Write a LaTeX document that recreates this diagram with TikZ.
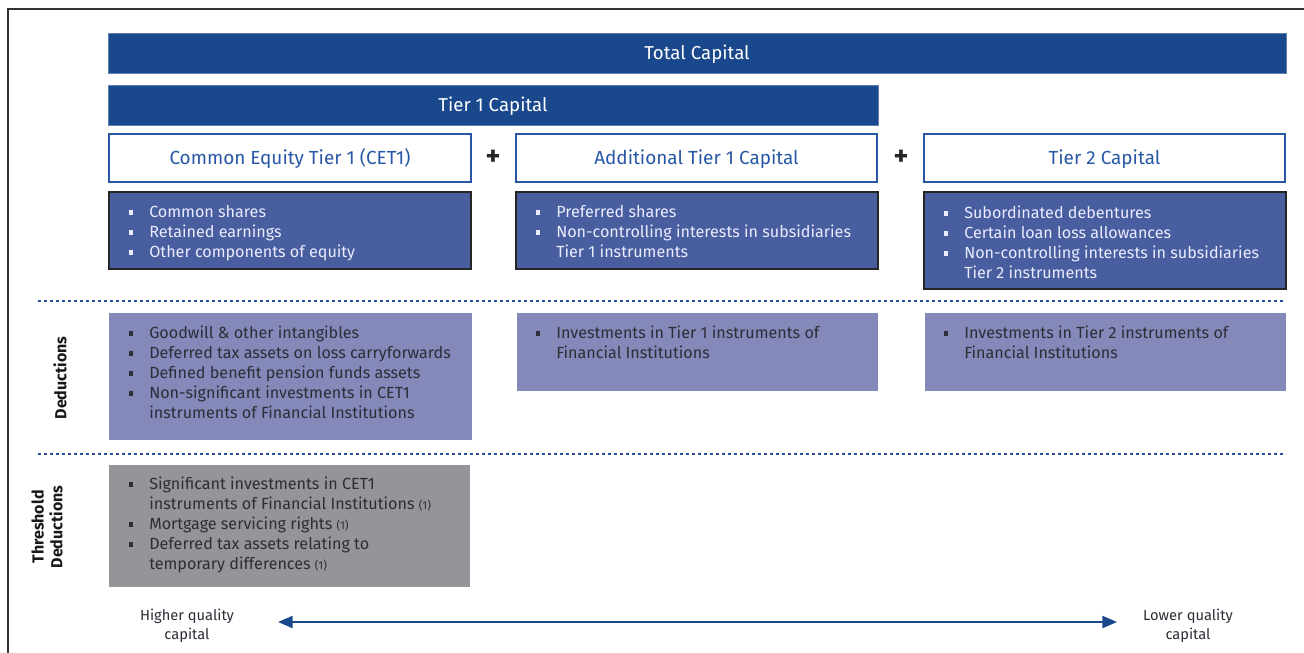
\documentclass[tikz,border=0pt]{standalone}
\usepackage{fontspec}
\setmainfont{Fira Sans}
\usetikzlibrary{arrows.meta}
\definecolor{navy}{RGB}{26,72,140}
\definecolor{headblue}{RGB}{40,88,165}
\definecolor{compblue}{RGB}{72,94,158}
\definecolor{lavender}{RGB}{132,137,186}
\definecolor{thrgray}{RGB}{147,149,152}
\definecolor{dotblue}{RGB}{40,80,160}
\definecolor{darktext}{RGB}{45,45,55}
\newcommand{\sqb}{\makebox[15.75pt][l]{\hspace{0.3pt}\raisebox{2pt}{\rule{3.6pt}{3.6pt}}}}
\newcommand{\ind}{\hspace*{15.75pt}}
\newcommand{\fn}{{\fontsize{8.5}{10}\selectfont(1)}}
\tikzset{
  navybar/.style={fill=navy, draw=navy!70!white, line width=0.4pt, text=white, font=\fontsize{14}{16}\selectfont, inner sep=0pt, text height=10pt, text depth=0pt},
  headbox/.style={fill=white, draw=headblue, line width=1.3pt, text=headblue, font=\fontsize{14.2}{16}\selectfont, inner sep=0pt, text height=10pt, text depth=0pt},
  compbox/.style={fill=compblue, draw=black!85, line width=1.4pt, inner sep=0pt},
  dedbox/.style={fill=lavender, inner sep=0pt},
  thrbox/.style={fill=thrgray, inner sep=0pt},
  itemlist/.style={anchor=north west, inner sep=0pt, align=left, font=\fontsize{12.1}{15}\selectfont},
  plussign/.style={font=\fontsize{21}{21}\selectfont\bfseries, text=black!85, inner sep=0pt},
  dotline/.style={draw=dotblue, line width=2.2pt, dash pattern=on 2.2pt off 2.3pt},
  sidelabel/.style={rotate=90, font=\fontsize{12}{14}\selectfont\bfseries, text=black!90, align=center, inner sep=0pt},
  quality/.style={font=\fontsize{11}{14}\selectfont, text=darktext, align=center, inner sep=0pt},
}
\begin{document}
\begin{tikzpicture}[x=0.75pt,y=-0.75pt]
\useasboundingbox (0,0) rectangle (1304,653);
\begin{scope}
\clip (0,0) rectangle (1304,653);
\draw[line width=1.6pt, draw=black!80] (8,9) rectangle (1340,690);
\end{scope}

% top bars
\node[navybar, minimum width=883.5pt, minimum height=30pt] (total) at (697,53) {Total Capital};
\node[navybar, minimum width=577.5pt, minimum height=30pt] (tier1) at (493,105) {Tier 1 Capital};

% headings
\node[headbox, minimum width=271.5pt, minimum height=36pt] (cet1h) at (290,158) {Common Equity Tier 1 (CET1)};
\node[headbox, minimum width=270.75pt, minimum height=36pt] (at1h) at (696.5,158) {Additional Tier 1 Capital};
\node[headbox, minimum width=270.75pt, minimum height=36pt] (t2h) at (1104.5,158) {Tier 2 Capital};
\node[plussign] (plus1) at (493,158) {+};
\node[plussign] (plus2) at (901,158) {+};

% component boxes
\node[compbox, minimum width=271.5pt, minimum height=57.75pt] (cet1c) at (290,230.5) {};
\node[compbox, minimum width=271.5pt, minimum height=57.75pt] (at1c) at (697,230.5) {};
\node[compbox, minimum width=271.5pt, minimum height=72.75pt] (t2c) at (1105,240.5) {};

\node[itemlist, text=white!92!blue] (cet1l) at (128,205.5) {\sqb Common shares\\ \sqb Retained earnings\\ \sqb Other components of equity};
\node[itemlist, text=white!92!blue] (at1l) at (535,205.5) {\sqb Preferred shares\\ \sqb Non-controlling interests in subsidiaries\\ \ind Tier 1 instruments};
\node[itemlist, text=white!92!blue] (t2l) at (943,205.5) {\sqb Subordinated debentures\\ \sqb Certain loan loss allowances\\ \sqb Non-controlling interests in subsidiaries\\ \ind Tier 2 instruments};

% dotted separators
\coordinate (d1a) at (38,301);
\coordinate (d1b) at (1283,301);
\coordinate (d2a) at (38,454);
\coordinate (d2b) at (1283,454);
\draw[dotline] (d1a) -- (d1b);
\draw[dotline] (d2a) -- (d2b);

% deductions
\node[dedbox, minimum width=272.25pt, minimum height=95.25pt] (cet1d) at (290.5,376.5) {};
\node[dedbox, minimum width=270.75pt, minimum height=58.5pt] (at1d) at (697.5,352) {};
\node[dedbox, minimum width=270.75pt, minimum height=58.5pt] (t2d) at (1105.5,352) {};

\node[itemlist, text=darktext] (cet1dl) at (128,325.5) {\sqb Goodwill \& other intangibles\\ \sqb Deferred tax assets on loss carryforwards\\ \sqb Defined benefit pension funds assets\\ \sqb Non-significant investments in CET1\\ \ind instruments of Financial Institutions};
\node[itemlist, text=darktext] (at1dl) at (535,325.5) {\sqb Investments in Tier 1 instruments of\\ \ind Financial Institutions};
\node[itemlist, text=darktext] (t2dl) at (943,325.5) {\sqb Investments in Tier 2 instruments of\\ \ind Financial Institutions};

% threshold
\node[thrbox, minimum width=270.75pt, minimum height=91.5pt] (thr) at (289.5,526) {};
\node[itemlist, text=darktext] (thrl) at (128,476.5) {\sqb Significant investments in CET1\\ \ind instruments of Financial Institutions \fn\\ \sqb Mortgage servicing rights \fn\\ \sqb Deferred tax assets relating to\\ \ind temporary differences \fn};

% side labels
\node[sidelabel] (dedlab) at (60,378) {Deductions};
\node[sidelabel] (thrlab) at (47,527) {Threshold\\Deductions};

% quality arrow
\node[quality] (hq) at (187,626) {Higher quality\\capital};
\node[quality] (lq) at (1188,626) {Lower quality\\capital};
\coordinate (aL) at (278,622);
\coordinate (aR) at (1117,622);
\draw[navy, line width=1.6pt, {Triangle[length=11pt,width=9pt]}-{Triangle[length=11pt,width=9pt]}] (aL) -- (aR);
\end{tikzpicture}
\end{document}
